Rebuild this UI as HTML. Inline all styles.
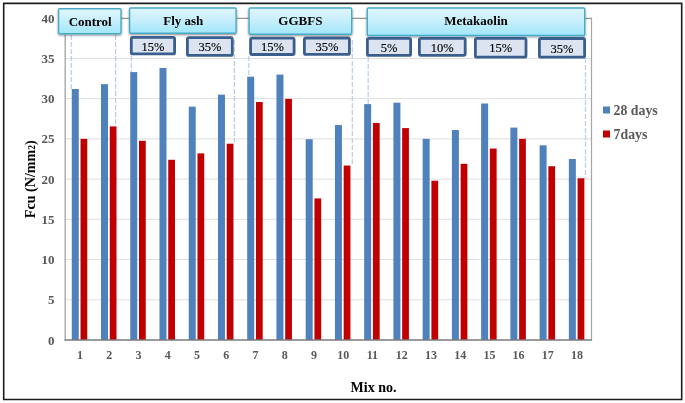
<!DOCTYPE html><html><head><meta charset="utf-8"><style>html,body{margin:0;padding:0;background:#fff;}svg{display:block;will-change:transform}</style></head><body>
<svg width="685" height="403" viewBox="0 0 685 403">
<defs><linearGradient id="cy" x1="0" y1="0" x2="0" y2="1"><stop offset="0" stop-color="#e0f6fd"/><stop offset="0.5" stop-color="#c6eefb"/><stop offset="1" stop-color="#a0e7fb"/></linearGradient><filter id="sh" x="-10%" y="-10%" width="130%" height="150%"><feGaussianBlur in="SourceAlpha" stdDeviation="0.8"/><feOffset dx="0" dy="1.4"/><feComponentTransfer><feFuncA type="linear" slope="0.45"/></feComponentTransfer><feMerge><feMergeNode/><feMergeNode in="SourceGraphic"/></feMerge></filter></defs>
<rect width="685" height="403" fill="#fff"/>
<line x1="64.9" x2="591.22" y1="299.77" y2="299.77" stroke="#dedede" stroke-width="1"/>
<line x1="64.9" x2="591.22" y1="259.55" y2="259.55" stroke="#dedede" stroke-width="1"/>
<line x1="64.9" x2="591.22" y1="219.32" y2="219.32" stroke="#dedede" stroke-width="1"/>
<line x1="64.9" x2="591.22" y1="179.10" y2="179.10" stroke="#dedede" stroke-width="1"/>
<line x1="64.9" x2="591.22" y1="138.88" y2="138.88" stroke="#dedede" stroke-width="1"/>
<line x1="64.9" x2="591.22" y1="98.65" y2="98.65" stroke="#dedede" stroke-width="1"/>
<line x1="64.9" x2="591.22" y1="58.43" y2="58.43" stroke="#dedede" stroke-width="1"/>
<line x1="64.9" x2="592" y1="18.3" y2="18.3" stroke="#959595" stroke-width="1.2"/>
<line x1="591.5" x2="591.5" y1="18.3" y2="340.0" stroke="#a6a6a6" stroke-width="1.2"/>
<line x1="71.3" x2="71.3" y1="35" y2="89.0" stroke="#b7cce9" stroke-width="1.2" stroke-dasharray="5 2"/>
<line x1="115.6" x2="115.6" y1="35" y2="126.4" stroke="#b7cce9" stroke-width="1.2" stroke-dasharray="5 2"/>
<line x1="131.4" x2="131.4" y1="56" y2="72.1" stroke="#b7cce9" stroke-width="1.2" stroke-dasharray="5 2"/>
<line x1="234.4" x2="234.4" y1="40" y2="143.7" stroke="#b7cce9" stroke-width="1.2" stroke-dasharray="5 2"/>
<line x1="248.8" x2="248.8" y1="56" y2="76.7" stroke="#b7cce9" stroke-width="1.2" stroke-dasharray="5 2"/>
<line x1="352.3" x2="352.3" y1="40" y2="165.6" stroke="#b7cce9" stroke-width="1.2" stroke-dasharray="5 2"/>
<line x1="368.2" x2="368.2" y1="57" y2="104.1" stroke="#b7cce9" stroke-width="1.2" stroke-dasharray="5 2"/>
<line x1="585.5" x2="585.5" y1="58" y2="178.3" stroke="#b7cce9" stroke-width="1.2" stroke-dasharray="5 2"/>
<rect x="71.77" y="89.00" width="7.00" height="251.00" fill="#4f81bd"/>
<rect x="80.52" y="138.88" width="6.75" height="201.12" fill="#c00000"/>
<rect x="101.01" y="84.17" width="7.00" height="255.83" fill="#4f81bd"/>
<rect x="109.76" y="126.41" width="6.75" height="213.59" fill="#c00000"/>
<rect x="130.25" y="72.10" width="7.00" height="267.90" fill="#4f81bd"/>
<rect x="139.00" y="140.81" width="6.75" height="199.19" fill="#c00000"/>
<rect x="159.49" y="67.92" width="7.00" height="272.08" fill="#4f81bd"/>
<rect x="168.24" y="159.79" width="6.75" height="180.21" fill="#c00000"/>
<rect x="188.73" y="106.69" width="7.00" height="233.31" fill="#4f81bd"/>
<rect x="197.48" y="153.36" width="6.75" height="186.64" fill="#c00000"/>
<rect x="217.97" y="94.63" width="7.00" height="245.37" fill="#4f81bd"/>
<rect x="226.72" y="143.70" width="6.75" height="196.30" fill="#c00000"/>
<rect x="247.21" y="76.69" width="7.00" height="263.31" fill="#4f81bd"/>
<rect x="255.96" y="102.03" width="6.75" height="237.97" fill="#c00000"/>
<rect x="276.45" y="74.60" width="7.00" height="265.40" fill="#4f81bd"/>
<rect x="285.20" y="98.89" width="6.75" height="241.11" fill="#c00000"/>
<rect x="305.69" y="139.20" width="7.00" height="200.80" fill="#4f81bd"/>
<rect x="314.44" y="198.41" width="6.75" height="141.59" fill="#c00000"/>
<rect x="334.93" y="125.04" width="7.00" height="214.96" fill="#4f81bd"/>
<rect x="343.68" y="165.58" width="6.75" height="174.42" fill="#c00000"/>
<rect x="364.17" y="104.12" width="7.00" height="235.88" fill="#4f81bd"/>
<rect x="372.92" y="122.95" width="6.75" height="217.05" fill="#c00000"/>
<rect x="393.41" y="102.67" width="7.00" height="237.33" fill="#4f81bd"/>
<rect x="402.16" y="128.09" width="6.75" height="211.91" fill="#c00000"/>
<rect x="422.65" y="138.88" width="7.00" height="201.12" fill="#4f81bd"/>
<rect x="431.40" y="180.71" width="6.75" height="159.29" fill="#c00000"/>
<rect x="451.89" y="130.03" width="7.00" height="209.97" fill="#4f81bd"/>
<rect x="460.64" y="163.81" width="6.75" height="176.19" fill="#c00000"/>
<rect x="481.13" y="103.48" width="7.00" height="236.52" fill="#4f81bd"/>
<rect x="489.88" y="148.53" width="6.75" height="191.47" fill="#c00000"/>
<rect x="510.37" y="127.61" width="7.00" height="212.39" fill="#4f81bd"/>
<rect x="519.12" y="138.88" width="6.75" height="201.12" fill="#c00000"/>
<rect x="539.61" y="145.31" width="7.00" height="194.69" fill="#4f81bd"/>
<rect x="548.36" y="166.23" width="6.75" height="173.77" fill="#c00000"/>
<rect x="568.85" y="158.99" width="7.00" height="181.01" fill="#4f81bd"/>
<rect x="577.60" y="178.30" width="6.75" height="161.70" fill="#c00000"/>
<line x1="65.2" x2="65.2" y1="18.3" y2="340.0" stroke="#a8a8a8" stroke-width="1.4"/>
<line x1="64.5" x2="592" y1="340.0" y2="340.0" stroke="#7a7a7a" stroke-width="1.5"/>
<text x="54.6" y="344.60" text-anchor="end" style="font-family:'Liberation Serif',serif;font-size:13px;font-weight:bold" fill="#585858">0</text>
<text x="54.6" y="304.38" text-anchor="end" style="font-family:'Liberation Serif',serif;font-size:13px;font-weight:bold" fill="#585858">5</text>
<text x="54.6" y="264.15" text-anchor="end" style="font-family:'Liberation Serif',serif;font-size:13px;font-weight:bold" fill="#585858">10</text>
<text x="54.6" y="223.92" text-anchor="end" style="font-family:'Liberation Serif',serif;font-size:13px;font-weight:bold" fill="#585858">15</text>
<text x="54.6" y="183.70" text-anchor="end" style="font-family:'Liberation Serif',serif;font-size:13px;font-weight:bold" fill="#585858">20</text>
<text x="54.6" y="143.47" text-anchor="end" style="font-family:'Liberation Serif',serif;font-size:13px;font-weight:bold" fill="#585858">25</text>
<text x="54.6" y="103.25" text-anchor="end" style="font-family:'Liberation Serif',serif;font-size:13px;font-weight:bold" fill="#585858">30</text>
<text x="54.6" y="63.03" text-anchor="end" style="font-family:'Liberation Serif',serif;font-size:13px;font-weight:bold" fill="#585858">35</text>
<text x="54.6" y="22.80" text-anchor="end" style="font-family:'Liberation Serif',serif;font-size:13px;font-weight:bold" fill="#585858">40</text>
<text x="80.02" y="358.9" text-anchor="middle" style="font-family:'Liberation Serif',serif;font-size:12px;font-weight:bold" fill="#585858">1</text>
<text x="109.26" y="358.9" text-anchor="middle" style="font-family:'Liberation Serif',serif;font-size:12px;font-weight:bold" fill="#585858">2</text>
<text x="138.50" y="358.9" text-anchor="middle" style="font-family:'Liberation Serif',serif;font-size:12px;font-weight:bold" fill="#585858">3</text>
<text x="167.74" y="358.9" text-anchor="middle" style="font-family:'Liberation Serif',serif;font-size:12px;font-weight:bold" fill="#585858">4</text>
<text x="196.98" y="358.9" text-anchor="middle" style="font-family:'Liberation Serif',serif;font-size:12px;font-weight:bold" fill="#585858">5</text>
<text x="226.22" y="358.9" text-anchor="middle" style="font-family:'Liberation Serif',serif;font-size:12px;font-weight:bold" fill="#585858">6</text>
<text x="255.46" y="358.9" text-anchor="middle" style="font-family:'Liberation Serif',serif;font-size:12px;font-weight:bold" fill="#585858">7</text>
<text x="284.70" y="358.9" text-anchor="middle" style="font-family:'Liberation Serif',serif;font-size:12px;font-weight:bold" fill="#585858">8</text>
<text x="313.94" y="358.9" text-anchor="middle" style="font-family:'Liberation Serif',serif;font-size:12px;font-weight:bold" fill="#585858">9</text>
<text x="343.18" y="358.9" text-anchor="middle" style="font-family:'Liberation Serif',serif;font-size:12px;font-weight:bold" fill="#585858">10</text>
<text x="372.42" y="358.9" text-anchor="middle" style="font-family:'Liberation Serif',serif;font-size:12px;font-weight:bold" fill="#585858">11</text>
<text x="401.66" y="358.9" text-anchor="middle" style="font-family:'Liberation Serif',serif;font-size:12px;font-weight:bold" fill="#585858">12</text>
<text x="430.90" y="358.9" text-anchor="middle" style="font-family:'Liberation Serif',serif;font-size:12px;font-weight:bold" fill="#585858">13</text>
<text x="460.14" y="358.9" text-anchor="middle" style="font-family:'Liberation Serif',serif;font-size:12px;font-weight:bold" fill="#585858">14</text>
<text x="489.38" y="358.9" text-anchor="middle" style="font-family:'Liberation Serif',serif;font-size:12px;font-weight:bold" fill="#585858">15</text>
<text x="518.62" y="358.9" text-anchor="middle" style="font-family:'Liberation Serif',serif;font-size:12px;font-weight:bold" fill="#585858">16</text>
<text x="547.86" y="358.9" text-anchor="middle" style="font-family:'Liberation Serif',serif;font-size:12px;font-weight:bold" fill="#585858">17</text>
<text x="577.10" y="358.9" text-anchor="middle" style="font-family:'Liberation Serif',serif;font-size:12px;font-weight:bold" fill="#585858">18</text>
<text x="373.5" y="391.8" text-anchor="middle" style="font-family:'Liberation Serif',serif;font-size:14px;font-weight:bold" fill="#000">Mix no.</text>
<text transform="translate(35.2,179.2) rotate(-90)" x="0" y="0" text-anchor="middle" style="font-family:'Liberation Serif',serif;font-size:14.1px;font-weight:bold" fill="#000">Fcu (N/mm<tspan style="font-size:9.5px">2</tspan>)</text>
<rect x="603" y="106.5" width="7" height="7" fill="#4f81bd"/>
<rect x="603" y="130.5" width="7" height="7" fill="#c00000"/>
<text transform="translate(613.6,114.8)" style="font-family:'Liberation Serif',serif;font-size:13.8px;font-weight:bold" fill="#595959">28 days</text>
<text transform="translate(613.6,138.8)" style="font-family:'Liberation Serif',serif;font-size:13.8px;font-weight:bold" fill="#595959">7days</text>
<rect x="58.6" y="8.7" width="62.40" height="25.10" rx="1.2" fill="url(#cy)" stroke="#4aaac6" stroke-width="1.4" filter="url(#sh)"/>
<text x="90.20" y="26.0" text-anchor="middle" style="font-family:'Liberation Serif',serif;font-size:13px;font-weight:bold" fill="#000">Control</text>
<rect x="129.6" y="8.0" width="106.50" height="25.20" rx="1.2" fill="url(#cy)" stroke="#4aaac6" stroke-width="1.4" filter="url(#sh)"/>
<text x="183.25" y="24.6" text-anchor="middle" style="font-family:'Liberation Serif',serif;font-size:13px;font-weight:bold" fill="#000">Fly ash</text>
<rect x="249.1" y="8.0" width="102.60" height="26.30" rx="1.2" fill="url(#cy)" stroke="#4aaac6" stroke-width="1.4" filter="url(#sh)"/>
<text x="300.40" y="24.5" text-anchor="middle" style="font-family:'Liberation Serif',serif;font-size:13px;font-weight:bold" fill="#000">GGBFS</text>
<rect x="367.3" y="8.0" width="217.40" height="27.50" rx="1.2" fill="url(#cy)" stroke="#4aaac6" stroke-width="1.4" filter="url(#sh)"/>
<text x="476.00" y="25.0" text-anchor="middle" style="font-family:'Liberation Serif',serif;font-size:13px;font-weight:bold" fill="#000">Metakaolin</text>
<rect x="131.3" y="37.3" width="43.30" height="16.60" rx="1.5" fill="#dbe4f0" stroke="#3a5f8f" stroke-width="2.8"/>
<text transform="translate(152.95,50.85) scale(1,1.05)" text-anchor="middle" style="font-family:'Liberation Serif',serif;font-size:12.5px" fill="#000" stroke="#000" stroke-width="0.15">15%</text>
<rect x="187.4" y="37.6" width="44.90" height="17.80" rx="1.5" fill="#dbe4f0" stroke="#3a5f8f" stroke-width="2.8"/>
<text transform="translate(209.85,50.85) scale(1,1.05)" text-anchor="middle" style="font-family:'Liberation Serif',serif;font-size:12.5px" fill="#000" stroke="#000" stroke-width="0.15">35%</text>
<rect x="250.6" y="38.199999999999996" width="43.50" height="16.30" rx="1.5" fill="#dbe4f0" stroke="#3a5f8f" stroke-width="2.8"/>
<text transform="translate(272.35,50.60) scale(1,1.05)" text-anchor="middle" style="font-family:'Liberation Serif',serif;font-size:12.5px" fill="#000" stroke="#000" stroke-width="0.15">15%</text>
<rect x="304.4" y="38.0" width="45.00" height="16.40" rx="1.5" fill="#dbe4f0" stroke="#3a5f8f" stroke-width="2.8"/>
<text transform="translate(326.90,50.75) scale(1,1.05)" text-anchor="middle" style="font-family:'Liberation Serif',serif;font-size:12.5px" fill="#000" stroke="#000" stroke-width="0.15">35%</text>
<rect x="367.4" y="38.3" width="43.20" height="17.10" rx="1.5" fill="#dbe4f0" stroke="#3a5f8f" stroke-width="2.8"/>
<text transform="translate(389.00,51.70) scale(1,1.05)" text-anchor="middle" style="font-family:'Liberation Serif',serif;font-size:12.5px" fill="#000" stroke="#000" stroke-width="0.15">5%</text>
<rect x="419.4" y="38.3" width="45.80" height="17.00" rx="1.5" fill="#dbe4f0" stroke="#3a5f8f" stroke-width="2.8"/>
<text transform="translate(442.30,51.65) scale(1,1.05)" text-anchor="middle" style="font-family:'Liberation Serif',serif;font-size:12.5px" fill="#000" stroke="#000" stroke-width="0.15">10%</text>
<rect x="475.4" y="38.4" width="50.60" height="18.80" rx="1.5" fill="#dbe4f0" stroke="#3a5f8f" stroke-width="2.8"/>
<text transform="translate(500.70,52.45) scale(1,1.05)" text-anchor="middle" style="font-family:'Liberation Serif',serif;font-size:12.5px" fill="#000" stroke="#000" stroke-width="0.15">15%</text>
<rect x="539.4" y="38.5" width="45.20" height="18.70" rx="1.5" fill="#dbe4f0" stroke="#3a5f8f" stroke-width="2.8"/>
<text transform="translate(562.00,52.50) scale(1,1.05)" text-anchor="middle" style="font-family:'Liberation Serif',serif;font-size:12.5px" fill="#000" stroke="#000" stroke-width="0.15">35%</text>
<path d="M3.7 3.4H681.7V399.5H3.7Z" fill="none" stroke="#1c1c1c" stroke-width="1.6"/>
</svg></body></html>
